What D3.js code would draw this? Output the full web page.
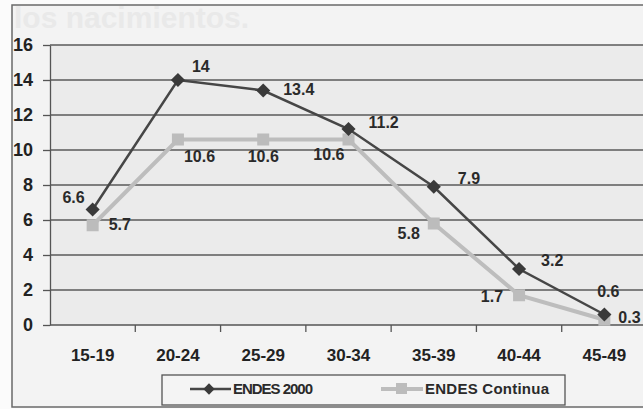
<!DOCTYPE html>
<html>
<head>
<meta charset="utf-8">
<script src="https://cdn.jsdelivr.net/npm/d3@7"></script>
<style>
  body { margin: 0; background: #fbfbfb; }
  svg { display: block; font-family: "Liberation Sans", Arial, sans-serif; }
</style>
</head>
<body>
<svg id="chart" width="643" height="409"></svg>
<script>
// age groups and the two survey series
const ageGroups = ["15-19", "20-24", "25-29", "30-34", "35-39", "40-44", "45-49"];
const endes2000 = [6.6, 14, 13.4, 11.2, 7.9, 3.2, 0.6];
const endesContinua = [5.7, 10.6, 10.6, 10.6, 5.8, 1.7, 0.3];
const yTicks = [0, 2, 4, 6, 8, 10, 12, 14, 16];

// label offsets (dx, dy, anchor) per point
const labels2000 = [[-8, -7, "end"], [14, -8, "start"], [20, 4, "start"], [20, -1, "start"], [24, -3, "start"], [22, -3, "start"], [4, -18, "middle"]];
const labelsCont = [[16, 5, "start"], [6, 22, "start"], [0, 22, "middle"], [-4, 20, "end"], [-14, 15, "end"], [-16, 7, "end"], [14, 3, "start"]];

const svg = d3.select("#chart");
const W = 643, H = 409;
const m = { left: 50, top: 45, right: 647, bottom: 325 };

// outer frame
svg.append("rect").attr("x", 12).attr("y", 5).attr("width", W).attr("height", 402)
  .attr("fill", "#f3f3f3").attr("stroke", "#6a6a6a").attr("stroke-width", 1.5);

// faint bleed-through text
svg.append("text").attr("x", 14).attr("y", 28).attr("font-size", 30).attr("font-weight", "bold")
  .attr("fill", "#e9e9e9").text("los nacimientos.");

const x = d3.scaleBand().domain(ageGroups).range([m.left, m.right]);
const y = d3.scaleLinear().domain([0, 16]).range([m.bottom, m.top]);

// plot area
svg.append("rect").attr("x", m.left).attr("y", m.top).attr("width", W - m.left).attr("height", m.bottom - m.top)
  .attr("fill", "#ebebeb");

// gridlines
svg.append("g").selectAll("line").data(yTicks.filter(d => d > 0)).join("line")
  .attr("x1", m.left).attr("x2", W).attr("y1", d => y(d)).attr("y2", d => y(d))
  .attr("stroke", "#5a5a5a").attr("stroke-width", 1.3);

// y axis
const yAxis = svg.append("g").attr("transform", `translate(${m.left},0)`)
  .call(d3.axisLeft(y).tickValues(yTicks).tickSize(7).tickSizeOuter(0).tickPadding(10));
yAxis.select(".domain").attr("stroke", "#555").attr("stroke-width", 1.3);
yAxis.selectAll(".tick line").attr("stroke", "#555").attr("stroke-width", 1.3);
yAxis.selectAll("text").attr("font-size", 18).attr("font-weight", "bold").attr("fill", "#222")
  .attr("font-family", "Liberation Sans, Arial, sans-serif");

// x axis
const xAxis = svg.append("g").attr("transform", `translate(0,${m.bottom})`)
  .call(d3.axisBottom(x).tickSize(0).tickPadding(24));
xAxis.select(".domain").remove();
xAxis.selectAll("text").attr("font-size", 17).attr("font-weight", "bold").attr("fill", "#222")
  .attr("font-family", "Liberation Sans, Arial, sans-serif");
svg.append("line").attr("x1", m.left).attr("x2", W).attr("y1", m.bottom).attr("y2", m.bottom)
  .attr("stroke", "#555").attr("stroke-width", 1.5);
svg.append("g").selectAll("line").data(ageGroups.slice(1)).join("line")
  .attr("x1", d => x(d)).attr("x2", d => x(d)).attr("y1", m.bottom).attr("y2", m.bottom + 7)
  .attr("stroke", "#555").attr("stroke-width", 1.3);

const cx = d => x(d) + x.bandwidth() / 2;
const line = d3.line().x((v, i) => cx(ageGroups[i])).y(v => y(v));

// ENDES Continua (light, squares)
svg.append("path").datum(endesContinua).attr("d", line).attr("fill", "none")
  .attr("stroke", "#bdbdbd").attr("stroke-width", 4);
svg.append("g").selectAll("rect").data(endesContinua).join("rect")
  .attr("x", (v, i) => cx(ageGroups[i]) - 6).attr("y", v => y(v) - 6)
  .attr("width", 12).attr("height", 12).attr("fill", "#bcbcbc");

// ENDES 2000 (dark, diamonds)
svg.append("path").datum(endes2000).attr("d", line).attr("fill", "none")
  .attr("stroke", "#464646").attr("stroke-width", 2.5);
svg.append("g").selectAll("rect").data(endes2000).join("rect")
  .attr("x", -5).attr("y", -5).attr("width", 10).attr("height", 10)
  .attr("transform", (v, i) => `translate(${cx(ageGroups[i])},${y(v)}) rotate(45)`)
  .attr("fill", "#3a3a3a");

// data labels
function addLabels(data, offs) {
  svg.append("g").selectAll("text").data(data).join("text")
    .attr("x", (v, i) => cx(ageGroups[i]) + offs[i][0])
    .attr("y", (v, i) => y(v) + offs[i][1])
    .attr("text-anchor", (v, i) => offs[i][2])
    .attr("font-size", 16).attr("font-weight", "bold").attr("fill", "#2a2a2a")
    .text(v => v);
}
addLabels(endes2000, labels2000);
addLabels(endesContinua, labelsCont);

// legend
const lg = svg.append("g");
lg.append("rect").attr("x", 162).attr("y", 375).attr("width", 403).attr("height", 30)
  .attr("fill", "#f4f4f4").attr("stroke", "#555").attr("stroke-width", 1.3);
lg.append("line").attr("x1", 190).attr("x2", 231).attr("y1", 389).attr("y2", 389)
  .attr("stroke", "#464646").attr("stroke-width", 2.5);
lg.append("rect").attr("x", -4).attr("y", -4).attr("width", 8).attr("height", 8)
  .attr("transform", "translate(209,389) rotate(45)").attr("fill", "#3a3a3a");
lg.append("text").attr("x", 233).attr("y", 394).attr("font-size", 15).attr("font-weight", "bold")
  .attr("fill", "#2a2a2a").attr("textLength", 80).text("ENDES 2000");
lg.append("line").attr("x1", 381).attr("x2", 423).attr("y1", 389).attr("y2", 389)
  .attr("stroke", "#bdbdbd").attr("stroke-width", 4);
lg.append("rect").attr("x", 396).attr("y", 383).attr("width", 11).attr("height", 11).attr("fill", "#bcbcbc");
lg.append("text").attr("x", 425).attr("y", 394).attr("font-size", 15).attr("font-weight", "bold")
  .attr("fill", "#2a2a2a").attr("textLength", 124).text("ENDES Continua");
</script>
</body>
</html>
